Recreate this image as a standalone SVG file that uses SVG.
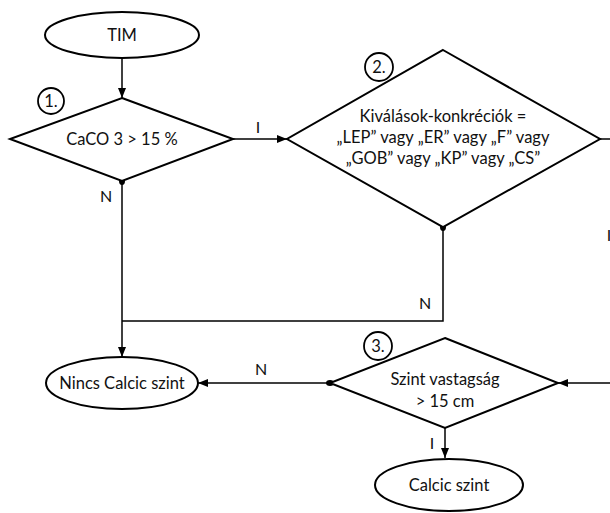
<svg xmlns="http://www.w3.org/2000/svg" width="610" height="513" viewBox="0 0 610 513">
<style>
.shape{fill:#fff;stroke:#000;stroke-width:2}
.circ{fill:#fff;stroke:#000;stroke-width:1.8}
.conn{fill:none;stroke:#000;stroke-width:1.5}
text{font-family:Lato,"Liberation Sans",sans-serif;font-size:16.5px;fill:#111;text-anchor:middle;dominant-baseline:central}
.lbl{font-size:16px}
</style>
<defs>
<marker id="arr" markerUnits="userSpaceOnUse" markerWidth="10" markerHeight="10" viewBox="0 0 10 10" refX="10" refY="5" orient="auto">
<path d="M0,1 L10,5 L0,9 z" fill="#000"/>
</marker>
<marker id="dot" markerUnits="userSpaceOnUse" markerWidth="8" markerHeight="8" viewBox="0 0 8 8" refX="4" refY="4" orient="auto">
<ellipse cx="4" cy="4" rx="4" ry="3" fill="#000"/>
</marker>
</defs>
<g id="connectors">
<path class="conn" d="M122,58 L122,98" marker-end="url(#arr)"/>
<path class="conn" d="M233,139 L287,139" marker-end="url(#arr)"/>
<path class="conn" d="M122,181 L122,357" marker-start="url(#dot)" marker-end="url(#arr)"/>
<path class="conn" d="M443,227 L443,321 L122,321" marker-start="url(#dot)"/>
<path class="conn" d="M600,139 L612,139"/>
<path class="conn" d="M612,383 L558,383" marker-end="url(#arr)"/>
<path class="conn" d="M330,383 L198,383" marker-start="url(#dot)" marker-end="url(#arr)"/>
<path class="conn" d="M445,428 L445,458" marker-end="url(#arr)"/>
<text class="lbl" x="258" y="126">I</text>
<text class="lbl" x="106" y="195">N</text>
<text class="lbl" x="425" y="302">N</text>
<text class="lbl" x="261" y="368">N</text>
<text class="lbl" x="432" y="442">I</text>
<text class="lbl" x="609" y="234">I</text>
</g>
<g id="tim">
<ellipse class="shape" cx="122" cy="35" rx="77" ry="23"/>
<text x="122" y="35">TIM</text>
</g>
<g id="d1">
<polygon class="shape" points="122,98 233,139 122,181 10,139"/>
<text x="122" y="139">CaCO 3 &gt; 15 %</text>
<circle class="circ" cx="51" cy="101" r="13"/>
<text x="51" y="101">1.</text>
</g>
<g id="d2">
<polygon class="shape" points="443,50 600,139 443,227 287,139"/>
<text x="443" y="116">Kiválások-konkréciók =</text>
<text x="443" y="137">„LEP” vagy „ER” vagy „F” vagy</text>
<text x="443" y="158">„GOB” vagy „KP” vagy „CS”</text>
<circle class="circ" cx="379" cy="67" r="14"/>
<text x="379" y="67">2.</text>
</g>
<g id="d3">
<polygon class="shape" points="445,338 558,383 445,428 330,383"/>
<text x="445" y="379">Szint vastagság</text>
<text x="445" y="401">&gt; 15 cm</text>
<circle class="circ" cx="378" cy="346" r="14"/>
<text x="378" y="346">3.</text>
</g>
<g id="nincs">
<ellipse class="shape" cx="122" cy="383" rx="76" ry="26"/>
<text x="122" y="383">Nincs Calcic szint</text>
</g>
<g id="calcic">
<ellipse class="shape" cx="449" cy="485" rx="74" ry="26"/>
<text x="449" y="485">Calcic szint</text>
</g>
</svg>
